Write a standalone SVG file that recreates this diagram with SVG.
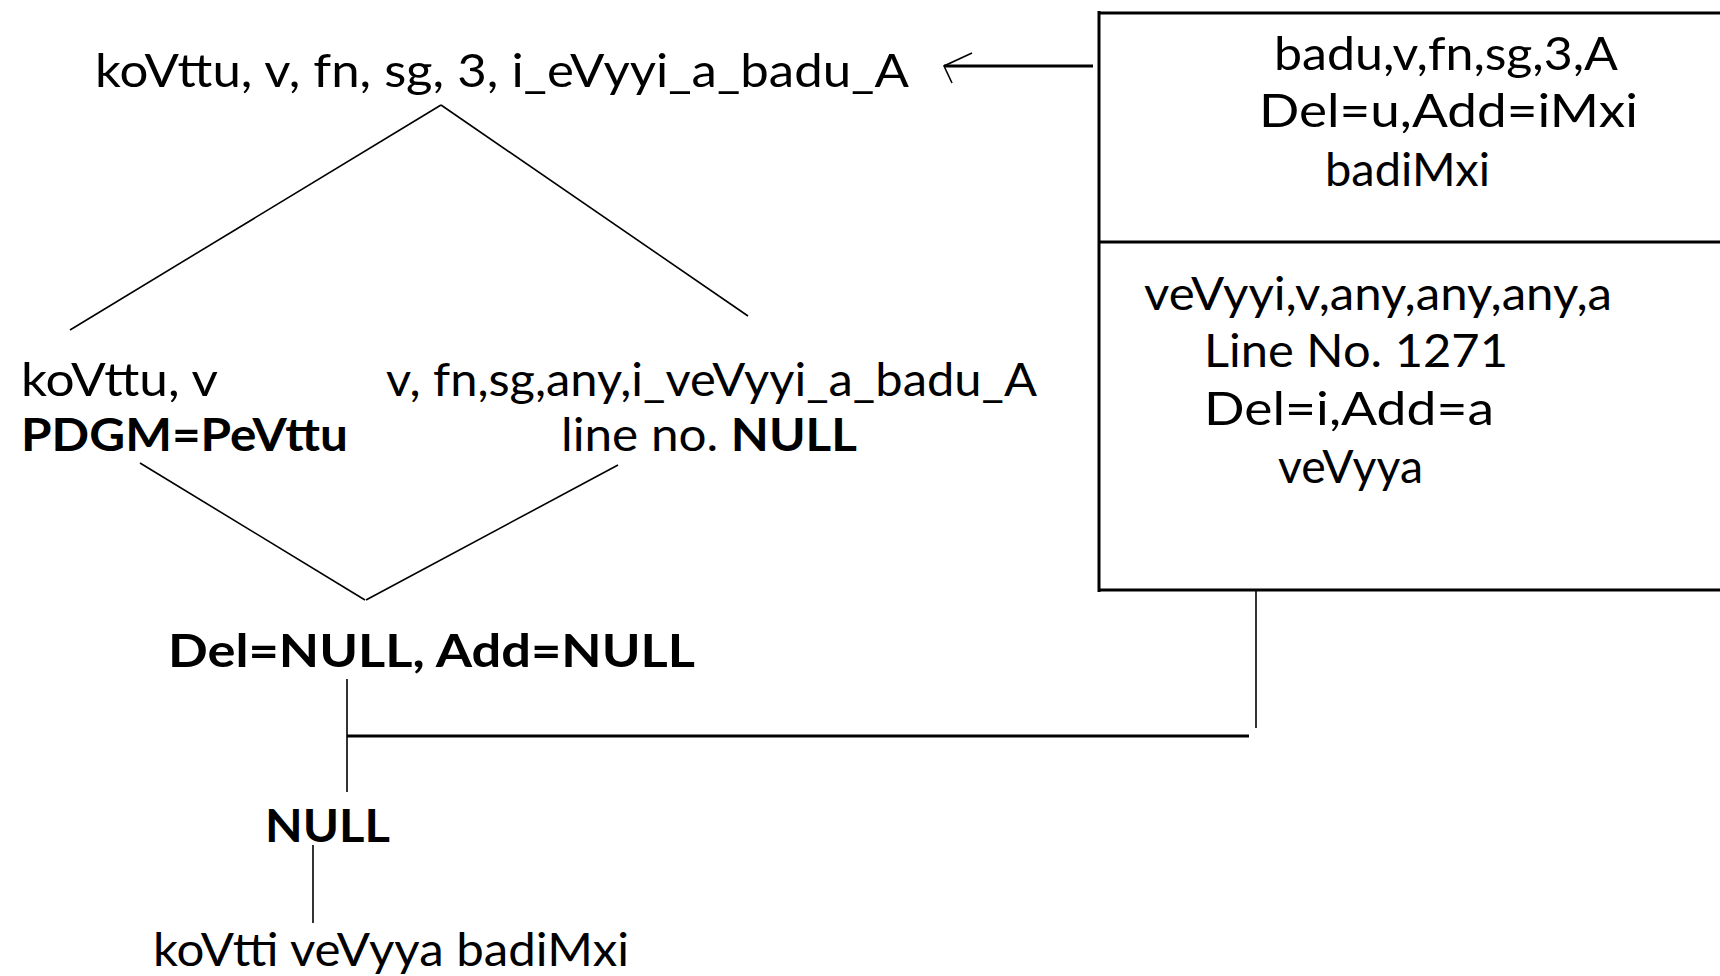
<svg xmlns="http://www.w3.org/2000/svg" width="1720" height="976" viewBox="0 0 1720 976">
<style>
.t{font-family:Lato,"Open Sans","DejaVu Sans",sans-serif;font-size:46px;fill:#000}
.b{font-weight:bold}
.thin{stroke:#000;stroke-width:1.6;fill:none}
.thick{stroke:#000;stroke-width:3;fill:none}
</style>
<rect width="1720" height="976" fill="#fff"/>
<g id="connectors">
<line class="thin" x1="441" y1="105" x2="70" y2="330"/>
<line class="thin" x1="441" y1="105" x2="748" y2="316"/>
<line class="thin" x1="140" y1="463" x2="365" y2="600"/>
<line class="thin" x1="618" y1="465" x2="366" y2="600"/>
<line class="thin" x1="347" y1="679" x2="347" y2="792"/>
<line class="thick" x1="347" y1="736" x2="1249" y2="736"/>
<line class="thin" x1="1256" y1="590" x2="1256" y2="728"/>
<line class="thin" x1="313" y1="845" x2="313" y2="923"/>
<line class="thick" x1="944" y1="66" x2="1093" y2="66"/>
<path class="thin" d="M972,53 L944,66 L952,83"/>
</g>
<g id="root">
<text class="t" x="95" y="87" textLength="814" lengthAdjust="spacingAndGlyphs">koVttu, v, fn, sg, 3, i_eVyyi_a_badu_A</text>
</g>
<g id="box">
<line class="thick" x1="1099" y1="13" x2="1720" y2="13"/>
<line class="thick" x1="1099" y1="242" x2="1720" y2="242"/>
<line class="thick" x1="1099" y1="590" x2="1720" y2="590"/>
<line class="thick" x1="1099" y1="11" x2="1099" y2="592"/>
<text class="t" x="1274" y="70" textLength="344" lengthAdjust="spacingAndGlyphs">badu,v,fn,sg,3,A</text>
<text class="t" x="1259" y="127" textLength="379" lengthAdjust="spacingAndGlyphs">Del=u,Add=iMxi</text>
<text class="t" x="1325" y="186" textLength="165" lengthAdjust="spacingAndGlyphs">badiMxi</text>
<text class="t" x="1144" y="310" textLength="468" lengthAdjust="spacingAndGlyphs">veVyyi,v,any,any,any,a</text>
<text class="t" x="1204" y="367" textLength="304" lengthAdjust="spacingAndGlyphs">Line No. 1271</text>
<text class="t" x="1204" y="425" textLength="290" lengthAdjust="spacingAndGlyphs">Del=i,Add=a</text>
<text class="t" x="1278" y="483" textLength="145" lengthAdjust="spacingAndGlyphs">veVyya</text>
</g>
<g id="left">
<text class="t" x="21" y="396" textLength="197" lengthAdjust="spacingAndGlyphs">koVttu, v</text>
<text class="t b" x="21" y="451" textLength="327" lengthAdjust="spacingAndGlyphs">PDGM=PeVttu</text>
</g>
<g id="right">
<text class="t" x="386" y="396" textLength="651" lengthAdjust="spacingAndGlyphs">v, fn,sg,any,i_veVyyi_a_badu_A</text>
<text class="t" x="561" y="451" textLength="296" lengthAdjust="spacingAndGlyphs">line no. <tspan class="b">NULL</tspan></text>
</g>
<g id="delAdd">
<text class="t b" x="168" y="667" textLength="527" lengthAdjust="spacingAndGlyphs">Del=NULL, Add=NULL</text>
</g>
<g id="null">
<text class="t b" x="265" y="842" textLength="125" lengthAdjust="spacingAndGlyphs">NULL</text>
</g>
<g id="result">
<text class="t" x="153" y="966" textLength="476" lengthAdjust="spacingAndGlyphs">koVtti veVyya badiMxi</text>
</g>
</svg>
